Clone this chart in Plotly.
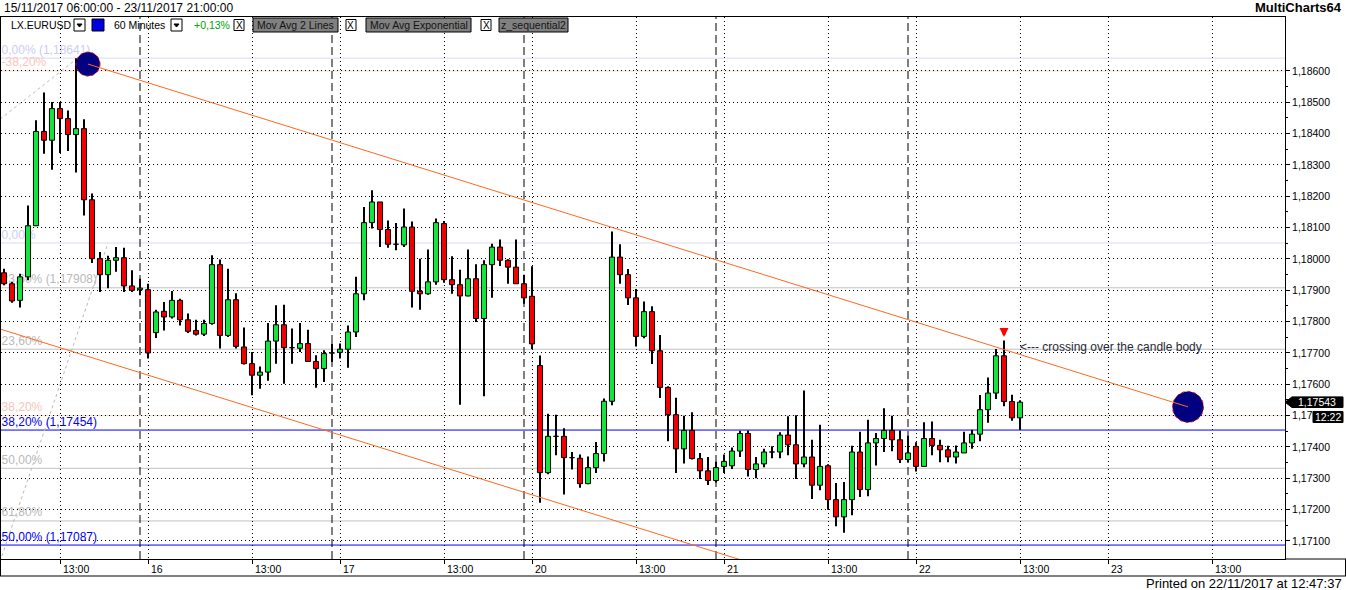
import plotly.graph_objects as go

# EURUSD 60 minute bars, bar 0 = 15/11/2017 06:00 (weekend hours are skipped)
opens = [1.17956, 1.17921, 1.17868, 1.17943, 1.18106, 1.18407, 1.18379, 1.18480, 1.18448, 1.18397,
         1.18416, 1.18189, 1.18001, 1.17950, 1.17996, 1.18004, 1.17914, 1.17902, 1.17902, 1.17765,
         1.17833, 1.17815, 1.17868, 1.17806, 1.17772, 1.17760, 1.17794, 1.17982, 1.17756, 1.17870,
         1.17719, 1.17666, 1.17629, 1.17639, 1.17738, 1.17790, 1.17717, 1.17715, 1.17730, 1.17673,
         1.17650, 1.17700, 1.17702, 1.17712, 1.17767, 1.17889, 1.18116, 1.18182, 1.18094, 1.18047,
         1.18045, 1.18102, 1.17897, 1.17889, 1.17927, 1.18113, 1.17934, 1.17918, 1.17882, 1.17937,
         1.17810, 1.17982, 1.18038, 1.17996, 1.17974, 1.17921, 1.17881, 1.17660, 1.17318, 1.17434,
         1.17434, 1.17366, 1.17364, 1.17283, 1.17334, 1.17379, 1.17546, 1.18006, 1.17950, 1.17876,
         1.17753, 1.17832, 1.17707, 1.17590, 1.17503, 1.17394, 1.17453, 1.17363, 1.17324, 1.17293,
         1.17338, 1.17340, 1.17387, 1.17443, 1.17328, 1.17346, 1.17384, 1.17384, 1.17438, 1.17407,
         1.17346, 1.17368, 1.17278, 1.17340, 1.17232, 1.17177, 1.17232, 1.17384, 1.17264, 1.17413,
         1.17427, 1.17453, 1.17423, 1.17360, 1.17402, 1.17338, 1.17427, 1.17405, 1.17391, 1.17368,
         1.17381, 1.17413, 1.17441, 1.17519, 1.17572, 1.17691, 1.17545, 1.17493]
highs = [1.17969, 1.17927, 1.17953, 1.18171, 1.18443, 1.18531, 1.18501, 1.18501, 1.18474, 1.18641,
         1.18446, 1.18209, 1.18022, 1.18010, 1.18038, 1.18036, 1.17964, 1.17937, 1.17921, 1.17838,
         1.17863, 1.17898, 1.17873, 1.17826, 1.17806, 1.17806, 1.18012, 1.17998, 1.17969, 1.17891,
         1.17781, 1.17703, 1.17657, 1.17796, 1.17852, 1.17854, 1.17778, 1.17796, 1.17774, 1.17693,
         1.17709, 1.17730, 1.17730, 1.17788, 1.17943, 1.18166, 1.18219, 1.18182, 1.18123, 1.18115,
         1.18161, 1.18120, 1.18001, 1.18030, 1.18129, 1.18121, 1.18009, 1.17966, 1.18030, 1.17983,
         1.17996, 1.18049, 1.18062, 1.17999, 1.18062, 1.17950, 1.17977, 1.17692, 1.17506, 1.17503,
         1.17460, 1.17384, 1.17376, 1.17370, 1.17416, 1.17555, 1.18088, 1.18047, 1.17968, 1.17904,
         1.17864, 1.17849, 1.17757, 1.17594, 1.17557, 1.17500, 1.17511, 1.17381, 1.17368, 1.17353,
         1.17376, 1.17398, 1.17452, 1.17453, 1.17368, 1.17394, 1.17402, 1.17447, 1.17498, 1.17501,
         1.17580, 1.17423, 1.17471, 1.17345, 1.17285, 1.17288, 1.17404, 1.17449, 1.17487, 1.17445,
         1.17524, 1.17500, 1.17453, 1.17436, 1.17415, 1.17479, 1.17481, 1.17423, 1.17404, 1.17405,
         1.17449, 1.17455, 1.17566, 1.17622, 1.17713, 1.17740, 1.17567, 1.17549]
lows = [1.17916, 1.17860, 1.17845, 1.17932, 1.18106, 1.18336, 1.18285, 1.18338, 1.18345, 1.18276,
        1.18139, 1.17987, 1.17895, 1.17907, 1.17959, 1.17895, 1.17895, 1.17884, 1.17682, 1.17748,
        1.17772, 1.17810, 1.17788, 1.17764, 1.17756, 1.17754, 1.17790, 1.17714, 1.17751, 1.17714,
        1.17663, 1.17565, 1.17586, 1.17611, 1.17666, 1.17602, 1.17666, 1.17703, 1.17671, 1.17589,
        1.17607, 1.17671, 1.17682, 1.17653, 1.17751, 1.17868, 1.18097, 1.18038, 1.18036, 1.18028,
        1.18038, 1.17845, 1.17838, 1.17886, 1.17918, 1.17924, 1.17889, 1.17535, 1.17881, 1.17799,
        1.17562, 1.17876, 1.17978, 1.17921, 1.17921, 1.17857, 1.17713, 1.17222, 1.17313, 1.17374,
        1.17248, 1.17328, 1.17270, 1.17281, 1.17317, 1.17354, 1.17533, 1.17921, 1.17853, 1.17721,
        1.17747, 1.17665, 1.17556, 1.17418, 1.17317, 1.17347, 1.17360, 1.17298, 1.17279, 1.17287,
        1.17317, 1.17330, 1.17368, 1.17306, 1.17300, 1.17335, 1.17364, 1.17364, 1.17374, 1.17298,
        1.17335, 1.17234, 1.17262, 1.17200, 1.17147, 1.17126, 1.17182, 1.17240, 1.17243, 1.17341,
        1.17384, 1.17386, 1.17349, 1.17351, 1.17322, 1.17338, 1.17374, 1.17351, 1.17351, 1.17347,
        1.17381, 1.17394, 1.17418, 1.17477, 1.17553, 1.17530, 1.17484, 1.17455]
closes = [1.17921, 1.17866, 1.17943, 1.18106, 1.18407, 1.18379, 1.18480, 1.18448, 1.18397, 1.18416,
          1.18189, 1.18001, 1.17950, 1.17996, 1.18004, 1.17914, 1.17900, 1.17907, 1.17700, 1.17831,
          1.17815, 1.17868, 1.17806, 1.17769, 1.17760, 1.17794, 1.17982, 1.17756, 1.17870, 1.17721,
          1.17666, 1.17629, 1.17639, 1.17738, 1.17790, 1.17717, 1.17715, 1.17730, 1.17673, 1.17650,
          1.17698, 1.17702, 1.17712, 1.17767, 1.17889, 1.18116, 1.18182, 1.18094, 1.18047, 1.18045,
          1.18102, 1.17897, 1.17889, 1.17927, 1.18116, 1.17934, 1.17918, 1.17882, 1.17937, 1.17810,
          1.17982, 1.18038, 1.17996, 1.17974, 1.17921, 1.17876, 1.17729, 1.17318, 1.17434, 1.17432,
          1.17366, 1.17364, 1.17283, 1.17334, 1.17379, 1.17546, 1.18006, 1.17950, 1.17876, 1.17753,
          1.17832, 1.17707, 1.17590, 1.17503, 1.17394, 1.17453, 1.17363, 1.17324, 1.17293, 1.17334,
          1.17354, 1.17387, 1.17443, 1.17328, 1.17346, 1.17384, 1.17386, 1.17438, 1.17407, 1.17346,
          1.17368, 1.17278, 1.17338, 1.17232, 1.17177, 1.17232, 1.17384, 1.17264, 1.17413, 1.17427,
          1.17453, 1.17423, 1.17360, 1.17381, 1.17338, 1.17427, 1.17405, 1.17391, 1.17368, 1.17384,
          1.17413, 1.17441, 1.17519, 1.17572, 1.17691, 1.17545, 1.17493, 1.17543]

tick_bars = [7, 18, 31, 42, 55, 66, 79, 90, 103, 114, 127, 138, 151]
tick_labels = ['13:00', '16', '13:00', '17', '13:00', '20', '13:00', '21', '13:00', '22', '13:00', '23', '13:00']
session_bars = [17, 41, 65, 89, 113]   # 23:00 session breaks
price_ticks = [1.171, 1.172, 1.173, 1.174, 1.175, 1.176, 1.177, 1.178, 1.179, 1.180,
               1.181, 1.182, 1.183, 1.184, 1.185, 1.186]

# fibonacci levels left on the chart
fib_prices = [1.18641, 1.18600, 1.18051, 1.17908, 1.17712, 1.17500, 1.17454, 1.17332, 1.17164, 1.17087]
fib_labels = ['0,00% (1,18641)', '-38,20%', '0,00%', '23,60% (1,17908)', '23,60%', '38,20%',
              '38,20% (1,17454)', '50,00%', '61,80%', '50,00% (1,17087)']
fib_kind = ['lav', 'pink', 'lav', 'gray', 'gray', 'pink', 'blue', 'gray', 'gray', 'blue']
fib_line_col = {'lav': 'rgb(218,218,245)', 'pink': 'rgb(250,215,205)', 'gray': 'rgb(192,192,192)', 'blue': '#0000ff'}
fib_text_col = {'lav': 'rgb(205,205,240)', 'pink': 'rgb(250,195,185)', 'gray': 'rgb(185,185,185)', 'blue': '#0000ff'}

# fib anchor lines (bar, price)
fib_trend1_bars, fib_trend1_prices = [-0.5, 9.2], [1.18446, 1.18641]
fib_trend2_bars, fib_trend2_prices = [-0.5, 13], [1.17034, 1.18051]

# down trend channel
channel_bars = [10.5, 148]
channel_prices = [1.18622, 1.17528]
channel_width = 0.00933

# page geometry (pixels)
W, H = 1346, 590
L, R, T, B = 1, 1285, 17, 559
Y_TOP = 1.187723
Y_BOT = 1.170425
FONT = 'Liberation Sans'


def fx(x):
    return (x - L) / (R - L)


def fy(y):
    return (B - y) / (B - T)


n = len(opens)
BW = 0.32
up = [k for k in range(n) if closes[k] >= opens[k]]
dn = [k for k in range(n) if closes[k] < opens[k]]


def bodies(idx):
    xs, ys = [], []
    for k in idx:
        o, c = opens[k], closes[k]
        xs += [k - BW, k + BW, k + BW, k - BW, k - BW, None]
        ys += [o, o, c, c, o, None]
    return xs, ys


wx, wy = [], []
for k in range(n):
    wx += [k, k, None]
    wy += [lows[k], highs[k], None]

px_per_price = (B - T) / (Y_TOP - Y_BOT)
label_off = 7.5 / px_per_price

data = [
    go.Scatter(x=[-0.3] * len(fib_prices), y=[p + label_off for p in fib_prices],
               mode='text', text=fib_labels, textposition='middle right',
               textfont=dict(family=FONT, size=12, color=[fib_text_col[k] for k in fib_kind])),
    go.Scatter(x=wx, y=wy, mode='lines', line=dict(color='black', width=2)),
]
ux, uy = bodies(up)
data.append(go.Scatter(x=ux, y=uy, mode='lines', fill='toself', fillcolor='rgb(20,228,60)',
                       line=dict(color='black', width=1)))
dx, dy = bodies(dn)
data.append(go.Scatter(x=dx, y=dy, mode='lines', fill='toself', fillcolor='rgb(240,0,0)',
                       line=dict(color='black', width=1)))

shapes = []
# fib horizontal lines
for p, kind in zip(fib_prices, fib_kind):
    shapes.append(dict(type='line', xref='paper', yref='y', x0=0, x1=1, y0=p, y1=p, layer='below',
                       line=dict(color=fib_line_col[kind], width=1)))
# fib anchor lines
for bx, by in [(fib_trend1_bars, fib_trend1_prices), (fib_trend2_bars, fib_trend2_prices)]:
    shapes.append(dict(type='line', xref='x', yref='y', x0=bx[0], x1=bx[1], y0=by[0], y1=by[1],
                       layer='below', line=dict(color='rgb(185,185,185)', width=1, dash='3px,3px')))
# session breaks
for k in session_bars:
    shapes.append(dict(type='line', xref='x', yref='paper', x0=k, x1=k, y0=0, y1=1, layer='below',
                       line=dict(color='black', width=1, dash='8px,4px')))
# channel end circles
for k, p, r in [(channel_bars[0], channel_prices[0], 12), (channel_bars[1], channel_prices[1], 15.5)]:
    shapes.append(dict(type='circle', xref='x', yref='y', xsizemode='pixel', ysizemode='pixel',
                       xanchor=k, yanchor=p, x0=-r, x1=r, y0=-r, y1=r, fillcolor='#000080',
                       line=dict(color='red', width=1, dash='dot')))
slope = (channel_prices[1] - channel_prices[0]) / (channel_bars[1] - channel_bars[0])
shapes.append(dict(type='line', xref='x', yref='y', x0=channel_bars[0], y0=channel_prices[0],
                   x1=channel_bars[1], y1=channel_prices[1], line=dict(color='rgb(255,105,30)', width=1)))
lo_start = -0.5
shapes.append(dict(type='line', xref='x', yref='y', x0=lo_start,
                   y0=channel_prices[0] + slope * (lo_start - channel_bars[0]) - channel_width,
                   x1=channel_bars[1], y1=channel_prices[1] - channel_width,
                   line=dict(color='rgb(255,105,30)', width=1)))

# frame pieces outside the plot area
for x0, y0, x1, y1 in [(R, B, W, B), (0, 576, W, 576), (0.5, T, 0.5, 576), (W - 0.5, B, W - 0.5, 576)]:
    shapes.append(dict(type='line', xref='paper', yref='paper', x0=fx(x0), y0=fy(y0), x1=fx(x1), y1=fy(y1),
                       line=dict(color='black', width=1)))

annotations = []


def text(x, y, s, size=10.5, color='black', anchor='left', bold=False, xref='paper', yref='paper'):
    if bold:
        s = '<b>' + s + '</b>'
    annotations.append(dict(x=x, y=y, xref=xref, yref=yref, text=s, showarrow=False, xanchor=anchor,
                            yanchor='middle', font=dict(family=FONT, size=size, color=color)))


text(fx(2), fy(8), '15/11/2017 06:00:00 - 23/11/2017 21:00:00', size=12)
text(fx(1344), fy(8), 'MultiCharts64', size=13, bold=True, anchor='right')
text(fx(1344), fy(583), 'Printed on 22/11/2017 at 12:47:37', size=13, anchor='right')

# status line
text(fx(9), fy(25), 'LX.EURUSD')
text(fx(112), fy(25), '60 Minutes')
text(fx(192), fy(25), '+0,13%', color='rgb(0,165,0)')
for x0, x1 in [(74, 85), (171, 182)]:
    shapes.append(dict(type='rect', xref='paper', yref='paper', x0=fx(x0), x1=fx(x1), y0=fy(31), y1=fy(19),
                       fillcolor='white', line=dict(color='black', width=1)))
    c = (x0 + x1) / 2
    shapes.append(dict(type='path', xref='paper', yref='paper', fillcolor='black', line=dict(color='black', width=1),
                       path=f'M {fx(c - 2.5)},{fy(24)} L {fx(c + 2.5)},{fy(24)} L {fx(c)},{fy(27)} Z'))
shapes.append(dict(type='rect', xref='paper', yref='paper', x0=fx(92), x1=fx(104), y0=fy(31), y1=fy(19),
                   fillcolor='rgb(0,0,225)', line=dict(color='black', width=1)))
for x0 in [234, 346, 481]:
    shapes.append(dict(type='rect', xref='paper', yref='paper', x0=fx(x0), x1=fx(x0 + 10), y0=fy(30.5), y1=fy(19.5),
                       fillcolor='white', line=dict(color='black', width=1)))
    text(fx(x0 + 5), fy(25), 'X', size=10, anchor='center')
for x0, x1, s in [(253, 338, 'Mov Avg 2 Lines'), (366, 471, 'Mov Avg Exponential'), (499, 568, 'z_sequential2')]:
    shapes.append(dict(type='rect', xref='paper', yref='paper', x0=fx(x0), x1=fx(x1), y0=fy(32), y1=fy(18),
                       fillcolor='rgb(128,128,128)', line=dict(color='black', width=1)))
    text(fx((x0 + x1) / 2), fy(25), s, color='rgb(20,20,20)', anchor='center')

# time labels
for k, s in zip(tick_bars, tick_labels):
    annotations.append(dict(x=k, y=fy(569), xref='x', yref='paper', text=s, showarrow=False, xanchor='left',
                            xshift=1, yanchor='middle', font=dict(family=FONT, size=10.5, color='black')))

# last price marker
last = closes[-1]
h = 5.3 / px_per_price
shapes.append(dict(type='path', xref='paper', yref='y', fillcolor='black', line=dict(color='black', width=1),
                   path=f'M {fx(1285)},{last} L {fx(1292)},{last + h} L {fx(1343)},{last + h} '
                        f'L {fx(1343)},{last - h} L {fx(1292)},{last - h} Z'))
annotations.append(dict(x=fx(1317), y=last, xref='paper', yref='y', text='1,17543', showarrow=False,
                        xanchor='center', yanchor='middle', font=dict(family=FONT, size=10.5, color='white')))
shapes.append(dict(type='rect', xref='paper', yref='paper', x0=fx(1313), x1=fx(1343), y0=fy(422.5), y1=fy(411.5),
                   fillcolor='black', line=dict(color='black', width=1)))
text(fx(1328), fy(417), '12:22', color='white', anchor='center')

# crossing note
annotations.append(dict(x=125, y=highs[125] + 3.5 / px_per_price, xref='x', yref='y', text='', showarrow=True,
                        ax=0, ay=-10, arrowcolor='red', arrowwidth=3, arrowhead=2, arrowsize=0.6, standoff=0))
annotations.append(dict(x=126.7, y=1.17719, xref='x', yref='y', text='<--- crossing over the candle body',
                        showarrow=False, xanchor='left', yanchor='middle',
                        font=dict(family=FONT, size=12, color='rgb(40,40,55)')))

layout = go.Layout(
    width=W, height=H,
    margin=dict(l=L, r=W - R, t=T, b=H - B, pad=0),
    paper_bgcolor='white', plot_bgcolor='white',
    separators=', ',
    showlegend=False, hovermode=False,
    xaxis=dict(range=[(L - 4) / 8, (R - 4) / 8], tickmode='array', tickvals=tick_bars, showticklabels=False,
               ticks='outside', ticklen=4, tickcolor='black', showgrid=True, gridcolor='black', gridwidth=1,
               griddash='1px,3px', showline=True, linecolor='black', linewidth=1, mirror=True,
               zeroline=False, fixedrange=True),
    yaxis=dict(side='right', range=[Y_BOT, Y_TOP], tickmode='array', tickvals=price_ticks, tickformat='.5f',
               ticks='outside', ticklen=4, tickcolor='black', showgrid=True, gridcolor='black', gridwidth=1,
               griddash='1px,3px', showline=True, linecolor='black', linewidth=1, mirror=True,
               zeroline=False, fixedrange=True,
               tickfont=dict(family=FONT, size=10.5, color='black'),
               minor=dict(tickmode='array', tickvals=[p + 0.0005 for p in price_ticks[:-1]],
                          ticks='outside', ticklen=2, tickcolor='black', showgrid=False)),
    shapes=shapes,
    annotations=annotations,
)

fig = go.Figure(data=data, layout=layout)
fig.write_html('out.html', config={'displayModeBar': False},
               post_script="document.body.style.margin='0px';document.body.style.overflow='hidden';")
